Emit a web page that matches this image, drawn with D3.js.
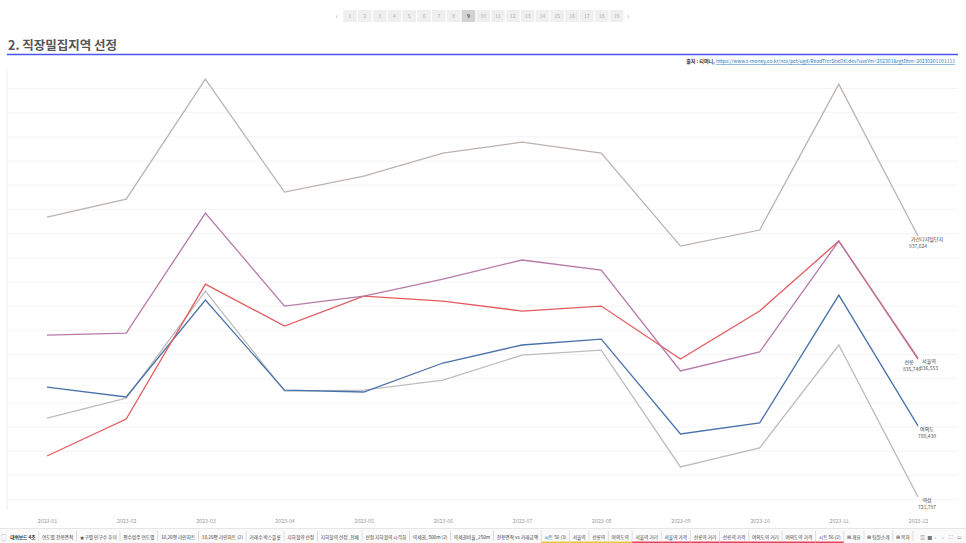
<!DOCTYPE html>
<html><head><meta charset="utf-8">
<script src="https://cdn.jsdelivr.net/npm/d3@7"></script>
<style>
html,body{margin:0;padding:0;background:#fff;overflow:hidden}
svg{display:block;font-family:"Noto Sans CJK KR","Noto Sans",sans-serif}
</style></head>
<body><svg id="c" width="966" height="543"></svg>
<script>
// ---------- data ----------
const months = ["2023-01","2023-02","2023-03","2023-04","2023-05","2023-06","2023-07","2023-08","2023-09","2023-10","2023-11","2023-12"];
const gasan     = [953200, 968100, 1067300, 973900, 987100, 1006100, 1015200, 1006100, 929200, 942500, 1063200, 937624];
const seoulStn  = [855600, 857300, 956500, 879600, 887900, 901900, 917700, 909400, 825900, 841600, 933400, 836553];
const seolleung = [755600, 786200, 897800, 863100, 887900, 883700, 875500, 879600, 835800, 875500, 933400, 835746];
const yeouido   = [812600, 804400, 884600, 810100, 808500, 832500, 847400, 852300, 773800, 782900, 888700, 780430];
const yeoksam   = [787000, 803500, 892000, 809300, 810100, 818400, 839100, 843200, 746500, 762200, 847400, 721797];
const seriesNames = ["가산디지털단지","서울역","선릉","여의도","역삼"];
const pages = ["1","2","3","4","5","6","7","8","9","10","11","12","13","14","15","16","17","18","19"];
const currentPage = "9";
const tabs = ["대쉬보드 4조","연도별 전용면적","★구별 인구수 추이","평수범주 연도별","10,20평 라인차트","10,20평 라인차트 (2)","거래수 박스플롯","지하철역 선정","지하철역 선정_전체","선정 지하철역 시각화","역세권_500m (2)","역세권비율_250m","전용면적 vs 거래금액","시트 56 (3)","서울역","선릉역","여의도역","서울역 거리","서울역 가격","선릉역 거리","선릉역 가격","여의도역 거리","여의도역 가격","시트 56 (2)","⊞ 개요","⊞ 팀원소개","⊞ 목차"];
const yellowTabs = ["시트 56 (3)","서울역","선릉역","여의도역"];
const redTabs = ["서울역 거리","서울역 가격","선릉역 거리","선릉역 가격","여의도역 거리","여의도역 가격","시트 56 (2)"];

// ---------- styles ----------
const seriesData = [gasan, seoulStn, seolleung, yeouido, yeoksam];
const colors = ["#bcb2b0","#b57aa8","#e25b5e","#4a72aa","#bdbdbd"];
const labelOffsets = [[9,0,9],[11,11,11],[-9,-6,-9],[9,9,9],[9,9,9]]; // nameDx, valueDx

const svg = d3.select("#c");
const W = 966, H = 543;

// ---------- pagination ----------
const pg = svg.append("g");
const px = d3.scalePoint().domain(pages).range([350, 616.5]);
pg.selectAll("rect").data(pages).join("rect")
  .attr("x", d => px(d) - 6.8).attr("y", 10).attr("width", 13.6).attr("height", 12)
  .attr("fill", d => d === currentPage ? "#d2d2d2" : "#efefef");
pg.selectAll("text.p").data(pages).join("text").attr("class","p")
  .attr("x", d => px(d)).attr("y", 18).attr("text-anchor","middle")
  .attr("font-size", 5).attr("fill", d => d === currentPage ? "#555" : "#aaa")
  .attr("font-weight", d => d === currentPage ? "bold" : "normal").text(d => d);
pg.append("text").attr("x", 337).attr("y", 19).attr("font-size", 8).attr("fill","#aaa").attr("text-anchor","middle").text("‹");
pg.append("text").attr("x", 628).attr("y", 19).attr("font-size", 8).attr("fill","#aaa").attr("text-anchor","middle").text("›");

// ---------- title ----------
svg.append("text").attr("x", 8).attr("y", 50).attr("font-size", 12.5).attr("font-weight","bold")
  .attr("fill","#555").text("2. 직장밀집지역 선정");
svg.append("line").attr("x1", 7).attr("x2", 958).attr("y1", 54.5).attr("y2", 54.5)
  .attr("stroke","#4a55ee").attr("stroke-width", 1.3);
const src = svg.append("text").attr("x", 955).attr("y", 63).attr("font-size", 5).attr("text-anchor","end");
src.append("tspan").attr("fill","#333").attr("font-weight","bold").text("출처 : 티머니, ");
src.append("tspan").attr("fill","#2b7bbd").attr("text-decoration","underline")
  .text("https://www.t-money.co.kr/ncs/pct/ugd/ReadTrcrStstDtl.dev?useYm=202301&rgtDtm=20230201101111");

// ---------- chart ----------
const x = d3.scalePoint().domain(months).range([47, 918]);
const y = d3.scaleLinear().domain([720000, 1060000]).range([499, 88]);

const grid = svg.append("g").attr("transform","translate(7,0)")
  .call(d3.axisLeft(y).tickValues(d3.range(720000, 1060001, 20000)).tickSize(-951).tickFormat(""));
grid.selectAll(".tick line").attr("stroke","#f4f4f4");
grid.select(".domain").attr("stroke","#eeeeee").attr("d","M0,70V510");

const xa = svg.append("g").attr("transform","translate(0,515)")
  .call(d3.axisBottom(x).tickSize(0).tickPadding(4));
xa.select(".domain").remove();
xa.selectAll("text").attr("font-size", 5.3).attr("fill","#999").attr("font-family","'Noto Sans CJK KR',sans-serif");

const line = d3.line().x((d,i) => x(months[i])).y(d => y(d));
const order = [4,3,2,1,0];
order.forEach(k => {
  svg.append("path").datum(seriesData[k]).attr("d", line)
    .attr("fill","none").attr("stroke", colors[k]).attr("stroke-width", 1.3);
});
const fmt = d3.format(",");
seriesData.forEach((s,k) => {
  const lx = x(months[months.length-1]), ly = y(s[s.length-1]);
  svg.append("text").attr("x", lx + labelOffsets[k][0]).attr("y", ly + 5)
    .attr("text-anchor","middle").attr("font-size", 5).attr("fill","#333").text(seriesNames[k]);
  svg.append("text").attr("x", lx + labelOffsets[k][1]).attr("y", ly + 12)
    .attr("text-anchor","middle").attr("font-size", 5).attr("fill","#555").text(fmt(s[s.length-1]));
});

// ---------- tab bar ----------
const tb = svg.append("g");
tb.append("rect").attr("x",0).attr("y",528).attr("width",W).attr("height",15).attr("fill","#fafafa");
tb.append("line").attr("x1",0).attr("x2",W).attr("y1",528.5).attr("y2",528.5).attr("stroke","#e6e6e6");
tb.append("text").attr("x",1).attr("y",538.5).attr("font-size",5).attr("fill","#777").text("▢");
// measure natural widths, then fit tabs into the reference's span
const fs = 4.7;
const widths = tabs.map(t => {
  const tmp = tb.append("text").attr("font-size", fs).text(t);
  const w = tmp.node().getComputedTextLength(); tmp.remove(); return w;
});
const totalText = d3.sum(widths);
const gap = (913 - 7 - totalText) / tabs.length;
let cx = 7 + gap/2;
tabs.forEach((t,i) => {
  tb.append("text").attr("x", cx).attr("y", 538.5).attr("font-size", fs)
    .attr("fill", i === 0 ? "#333" : "#444").attr("font-weight", i===0 ? "bold":"normal")
    .attr("textLength", widths[i]).text(t);
  const x0 = cx - gap/2, x1 = cx + widths[i] + gap/2;
  if (yellowTabs.includes(t)) tb.append("rect").attr("x",x0).attr("y",541.5).attr("width",x1-x0).attr("height",1.5).attr("fill","#e8c440");
  if (redTabs.includes(t)) tb.append("rect").attr("x",x0).attr("y",541.5).attr("width",x1-x0).attr("height",1.5).attr("fill","#e8425a");
  tb.append("line").attr("x1",x1).attr("x2",x1).attr("y1",531).attr("y2",541).attr("stroke","#ddd");
  cx = x1 + gap/2;
});
const icons = ["▥","■","‹","›","⛶","▭"];
icons.forEach((ic,i) => tb.append("text").attr("x", 920 + i*7.3).attr("y", 539).attr("font-size", 5).attr("fill","#777").text(ic));
</script></body></html>
